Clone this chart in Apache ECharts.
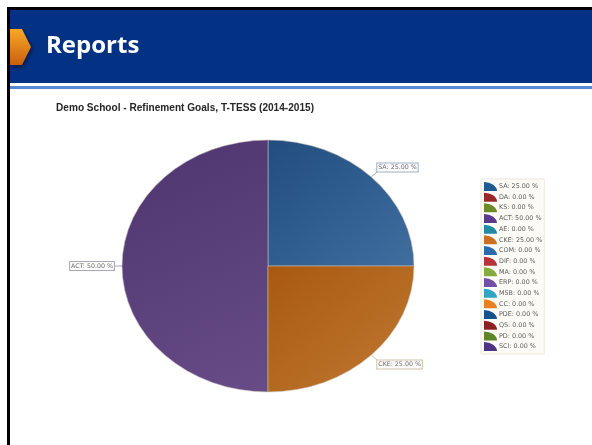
<!DOCTYPE html>
<html>
<head>
<meta charset="utf-8">
<title>Reports</title>
<style>
  html, body { margin: 0; padding: 0; background: #fff; }
  #chart { width: 592px; height: 445px; }
</style>
<script src="https://cdn.jsdelivr.net/npm/echarts@6/dist/echarts.min.js"></script>
</head>
<body>
<div id="chart"></div>
<script>
// Refinement goal shares, in percent, in the school's reporting order.
var categories = ['SA', 'DA', 'KS', 'ACT', 'AE', 'CKE', 'COM', 'DIF', 'MA', 'ERP', 'MSB', 'CC', 'PDE', 'QS', 'PD', 'SCI'];
var percentages = [25, 0, 0, 50, 0, 25, 0, 0, 0, 0, 0, 0, 0, 0, 0, 0];
var legendColors = ['#1f5a90', '#99282b', '#6b8b2b', '#5a3a8a', '#1f8aa2', '#c8701f', '#2a6bae', '#b63338',
                    '#85ac3b', '#7250a6', '#2fa4c3', '#e97f20', '#15528e', '#8e2023', '#5d8427', '#4e3483'];
var sliceShades = {
  SA:  ['#214d7f', '#3f6e9f'],
  ACT: ['#4e356f', '#674c88'],
  CKE: ['#a9590f', '#c07933']
};
var labelBorders = { SA: '#9fb1c6', ACT: '#aaa5b8', CKE: '#d6c3a8' };

var chartTitle = 'Demo School - Refinement Goals, T-TESS (2014-2015)';
var slideHeading = 'Reports';

// Pie geometry: the plot is stretched wider than it is tall.
var pie = { cx: 268, cy: 266, rx: 146, ry: 126 };
var total = percentages.reduce(function (a, b) { return a + b; }, 0);

function labelText(i) {
  return categories[i] + ': ' + percentages[i].toFixed(2) + ' %';
}

// Slices run anticlockwise from the east, in category order.
function renderSlice(index) {
  return function (params, api) {
    var value = api.value(0);
    if (!value) { return null; }
    var before = percentages.slice(0, index).reduce(function (a, b) { return a + b; }, 0);
    var a0 = before / total * Math.PI * 2;
    var a1 = (before + value) / total * Math.PI * 2;
    var mid = (a0 + a1) / 2;
    var name = categories[index];
    var shades = sliceShades[name] || [legendColors[index], legendColors[index]];
    var border = labelBorders[name] || '#aaaaaa';

    var ax = pie.cx + pie.rx * Math.cos(mid);
    var ay = pie.cy - pie.ry * Math.sin(mid);
    var sx = Math.cos(mid) >= 0 ? 1 : -1;
    var sy = Math.abs(Math.sin(mid)) < 0.01 ? 0 : (Math.sin(mid) > 0 ? -1 : 1);
    var ex = ax + sx * (sy === 0 ? 8 : 6);
    var ey = ay + sy * 5;
    var ty = ey + sy * 4.5;

    return {
      type: 'group',
      children: [
        {
          type: 'sector',
          shape: { cx: pie.cx, cy: pie.cy, r: pie.rx, r0: 0, startAngle: -a1, endAngle: -a0, clockwise: true },
          originX: pie.cx,
          originY: pie.cy,
          scaleY: pie.ry / pie.rx,
          style: {
            fill: new echarts.graphic.LinearGradient(0, 0, 1, 1, [
              { offset: 0, color: shades[0] },
              { offset: 1, color: shades[1] }
            ]),
            stroke: '#c9bfb8',
            lineWidth: 0.6
          }
        },
        {
          type: 'line',
          shape: { x1: ax, y1: ay, x2: ex, y2: ey },
          style: { stroke: border, lineWidth: 1 }
        },
        {
          type: 'text',
          x: ex,
          y: ty,
          style: {
            text: labelText(index),
            fill: '#6a6a6a',
            font: '6.3px "DejaVu Sans"',
            align: sx > 0 ? 'left' : 'right',
            verticalAlign: 'middle',
            backgroundColor: '#fbfbfb',
            borderColor: border,
            borderWidth: 1,
            padding: [1, 1, 1, 1]
          }
        }
      ]
    };
  };
}

var series = categories.map(function (name, i) {
  return {
    type: 'custom',
    name: name,
    coordinateSystem: 'none',
    silent: true,
    animation: false,
    itemStyle: { color: legendColors[i] },
    data: [[percentages[i]]],
    renderItem: renderSlice(i)
  };
});

var chart = echarts.init(document.getElementById('chart'), null, { renderer: 'canvas' });
chart.setOption({
  animation: false,
  backgroundColor: '#ffffff',
  title: {
    text: chartTitle,
    left: 51,
    top: 98.5,
    textStyle: { fontFamily: '"Liberation Sans"', fontSize: 10.1, fontWeight: 'bold', color: '#262626' }
  },
  legend: {
    orient: 'vertical',
    left: 481,
    top: 179,
    padding: [3, 2, 3, 3],
    itemWidth: 13,
    itemHeight: 9,
    itemGap: 1.67,
    selectedMode: false,
    icon: 'path://M0 9 L0 0 A13 9 0 0 1 13 9 Z',
    symbolKeepAspect: false,
    backgroundColor: '#fdfbf5',
    borderColor: '#eee7d8',
    borderWidth: 1,
    textStyle: { fontFamily: '"DejaVu Sans"', fontSize: 6.4, color: '#5c5c5c', padding: [0, 0, 0, -3] },
    formatter: function (name) { return labelText(categories.indexOf(name)); },
    data: categories
  },
  graphic: [
    { type: 'rect', silent: true, z: -10, shape: { x: 7, y: 7, width: 585, height: 3 }, style: { fill: '#000000' } },
    { type: 'rect', silent: true, z: -10, shape: { x: 10, y: 10, width: 582, height: 73 }, style: { fill: '#033184' } },
    { type: 'rect', silent: true, z: -10, shape: { x: 10, y: 86, width: 582, height: 3 }, style: { fill: '#568ad4' } },
    {
      type: 'polygon', silent: true, z: -9,
      shape: { points: [[10, 29], [22, 29], [31, 47], [22, 65], [10, 65]] },
      style: {
        fill: new echarts.graphic.LinearGradient(0, 0, 0, 1, [
          { offset: 0, color: '#f9a825' },
          { offset: 1, color: '#c9600f' }
        ]),
        shadowColor: 'rgba(0,0,0,0.55)', shadowBlur: 5, shadowOffsetY: 2, shadowOffsetX: 1
      }
    },
    { type: 'rect', silent: true, z: -8, shape: { x: 7, y: 7, width: 3, height: 438 }, style: { fill: '#000000' } },
    {
      type: 'text', silent: true, z: -8, x: 46, y: 46,
      style: { text: slideHeading, fill: '#ffffff', font: 'bold 24px "Open Sans"', verticalAlign: 'middle' }
    }
  ],
  series: series
});
</script>
</body>
</html>
